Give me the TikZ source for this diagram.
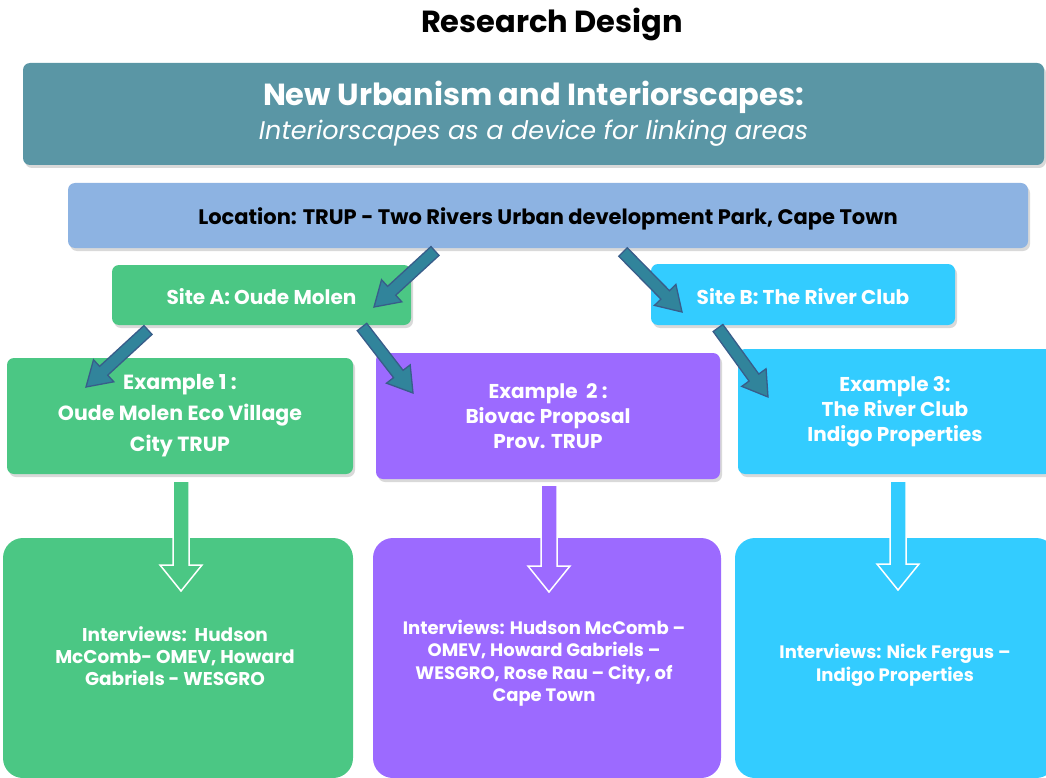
\documentclass[tikz,border=0pt]{standalone}
\usepackage{fontspec}
\setmainfont{Poppins}
\usetikzlibrary{calc,shadows}
\definecolor{topteal}{HTML}{5A96A5}
\definecolor{locblue}{HTML}{8DB3E2}
\definecolor{grn}{HTML}{4BC784}
\definecolor{purp}{HTML}{9C6AFF}
\definecolor{cyn}{HTML}{33CCFF}
\definecolor{arrfill}{HTML}{31849B}
\definecolor{arrline}{HTML}{385D8A}
\newcommand\polyarrow[6]{%
  \coordinate (neck) at ($(#3)!#6!(#2)$);
  \draw[#1] ($(#2)!#4!90:(#3)$) -- ($(neck)!#4!90:(#3)$) -- ($(neck)!#5!90:(#3)$) -- (#3)
    -- ($(neck)!#5!-90:(#3)$) -- ($(neck)!#4!-90:(#3)$) -- ($(#2)!#4!-90:(#3)$) -- cycle;}
\begin{document}
\begin{tikzpicture}[x=1pt,y=-1pt,
  box/.style={rounded corners=7pt, inner sep=0pt, align=center, text=white, font=\bfseries},
  bigbox/.style={rounded corners=20pt, inner sep=0pt},
  shad/.style={drop shadow={opacity=0.3, shadow xshift=2pt, shadow yshift=-3pt}},
  txt/.style={align=center, text=white, font=\bfseries},
  blockarr/.style={fill=arrfill, draw=arrline, line width=1.3pt, line join=miter},
  hollow/.style={draw=white, line width=1.5pt, line join=miter}]
\useasboundingbox (0,0) rectangle (1046,778);

\node[font=\bfseries\fontsize{30.5}{34}\selectfont] (title) at (552,24) {Research Design};

\node[box, shad, fill=topteal, minimum width=1021pt, minimum height=102pt,
  font=\bfseries\fontsize{30.5}{34}\selectfont] (top) at (533.5,114)
  {New Urbanism and Interiorscapes:\\
   {\fontsize{25.5}{34}\selectfont\mdseries\itshape Interiorscapes as a device for linking areas}};

\node[box, shad, fill=locblue, minimum width=960pt, minimum height=65pt] (loc) at (548,215.5) {};
\node[txt, text=black, font=\bfseries\fontsize{21}{24}\selectfont] (loctext) at (548,218.5)
  {Location: TRUP - Two Rivers Urban development Park, Cape Town};

\node[box, shad, fill=grn, minimum width=299pt, minimum height=60pt] (siteA) at (261.5,295) {};
\node[txt, font=\bfseries\fontsize{20}{24}\selectfont] (siteAtext) at (261.5,296.5) {Site A: Oude Molen};
\node[box, shad, fill=cyn, minimum width=304pt, minimum height=61pt] (siteB) at (803,294.5) {};
\node[txt, font=\bfseries\fontsize{20}{24}\selectfont] (siteBtext) at (803,296.5) {Site B: The River Club};

\node[box, shad, fill=grn, minimum width=346pt, minimum height=116pt,
  font=\bfseries\fontsize{20.5}{31}\selectfont] (ex1) at (180,416)
  {Example 1 :\\Oude Molen Eco Village\\City TRUP};
\node[box, shad, fill=purp, minimum width=344pt, minimum height=126pt,
  font=\bfseries\fontsize{20}{25}\selectfont] (ex2) at (548,416)
  {Example~~2 :\\Biovac Proposal\\Prov. TRUP};
\node[box, shad, fill=cyn, minimum width=314pt, minimum height=125pt,
  font=\bfseries\fontsize{20}{25}\selectfont] (ex3) at (895,411.5)
  {Example 3:\\The River Club\\Indigo Properties};

\node[bigbox, fill=grn, minimum width=350pt, minimum height=240pt] (int1) at (178,658) {};
\node[bigbox, fill=purp, minimum width=348pt, minimum height=240pt] (int2) at (547,658) {};
\node[bigbox, fill=cyn, minimum width=321pt, minimum height=240pt] (int3) at (895.5,658) {};

% hollow arrows
\coordinate (h1s) at (181,481); \coordinate (h1e) at (181,591);
\coordinate (h2s) at (549,485); \coordinate (h2e) at (549,592);
\coordinate (h3s) at (898,481); \coordinate (h3e) at (898,590);
\polyarrow{hollow, fill=grn}{h1s}{h1e}{8pt}{21pt}{26pt}
\polyarrow{hollow, fill=purp}{h2s}{h2e}{8pt}{21pt}{26pt}
\polyarrow{hollow, fill=cyn}{h3s}{h3e}{8pt}{21pt}{26pt}

\node[txt, font=\bfseries\fontsize{18.5}{22}\selectfont] (t1) at (175,656)
  {Interviews:~~Hudson\\McComb- OMEV, Howard\\Gabriels - WESGRO};
\node[txt, font=\bfseries\fontsize{18}{22.5}\selectfont] (t2) at (544,663)
  {Interviews: Hudson McComb --\\OMEV, Howard Gabriels --\\WESGRO, Rose Rau -- City, of\\Cape Town};
\node[txt, font=\bfseries\fontsize{18}{23}\selectfont] (t3) at (895,665)
  {Interviews: Nick Fergus --\\Indigo Properties};

% block arrows
\coordinate (a1s) at (435,251); \coordinate (a1e) at (374,307);
\coordinate (a2s) at (623,252); \coordinate (a2e) at (682,312);
\coordinate (a3s) at (148,330); \coordinate (a3e) at (86,387);
\coordinate (a4s) at (362,327); \coordinate (a4e) at (413,393);
\coordinate (a5s) at (718,328); \coordinate (a5e) at (768,397);
\polyarrow{blockarr}{a1s}{a1e}{6pt}{15pt}{24pt}
\polyarrow{blockarr}{a2s}{a2e}{6pt}{15pt}{24pt}
\polyarrow{blockarr}{a3s}{a3e}{6pt}{15pt}{24pt}
\polyarrow{blockarr}{a4s}{a4e}{6pt}{15pt}{24pt}
\polyarrow{blockarr}{a5s}{a5e}{6pt}{15pt}{24pt}
\end{tikzpicture}
\end{document}
